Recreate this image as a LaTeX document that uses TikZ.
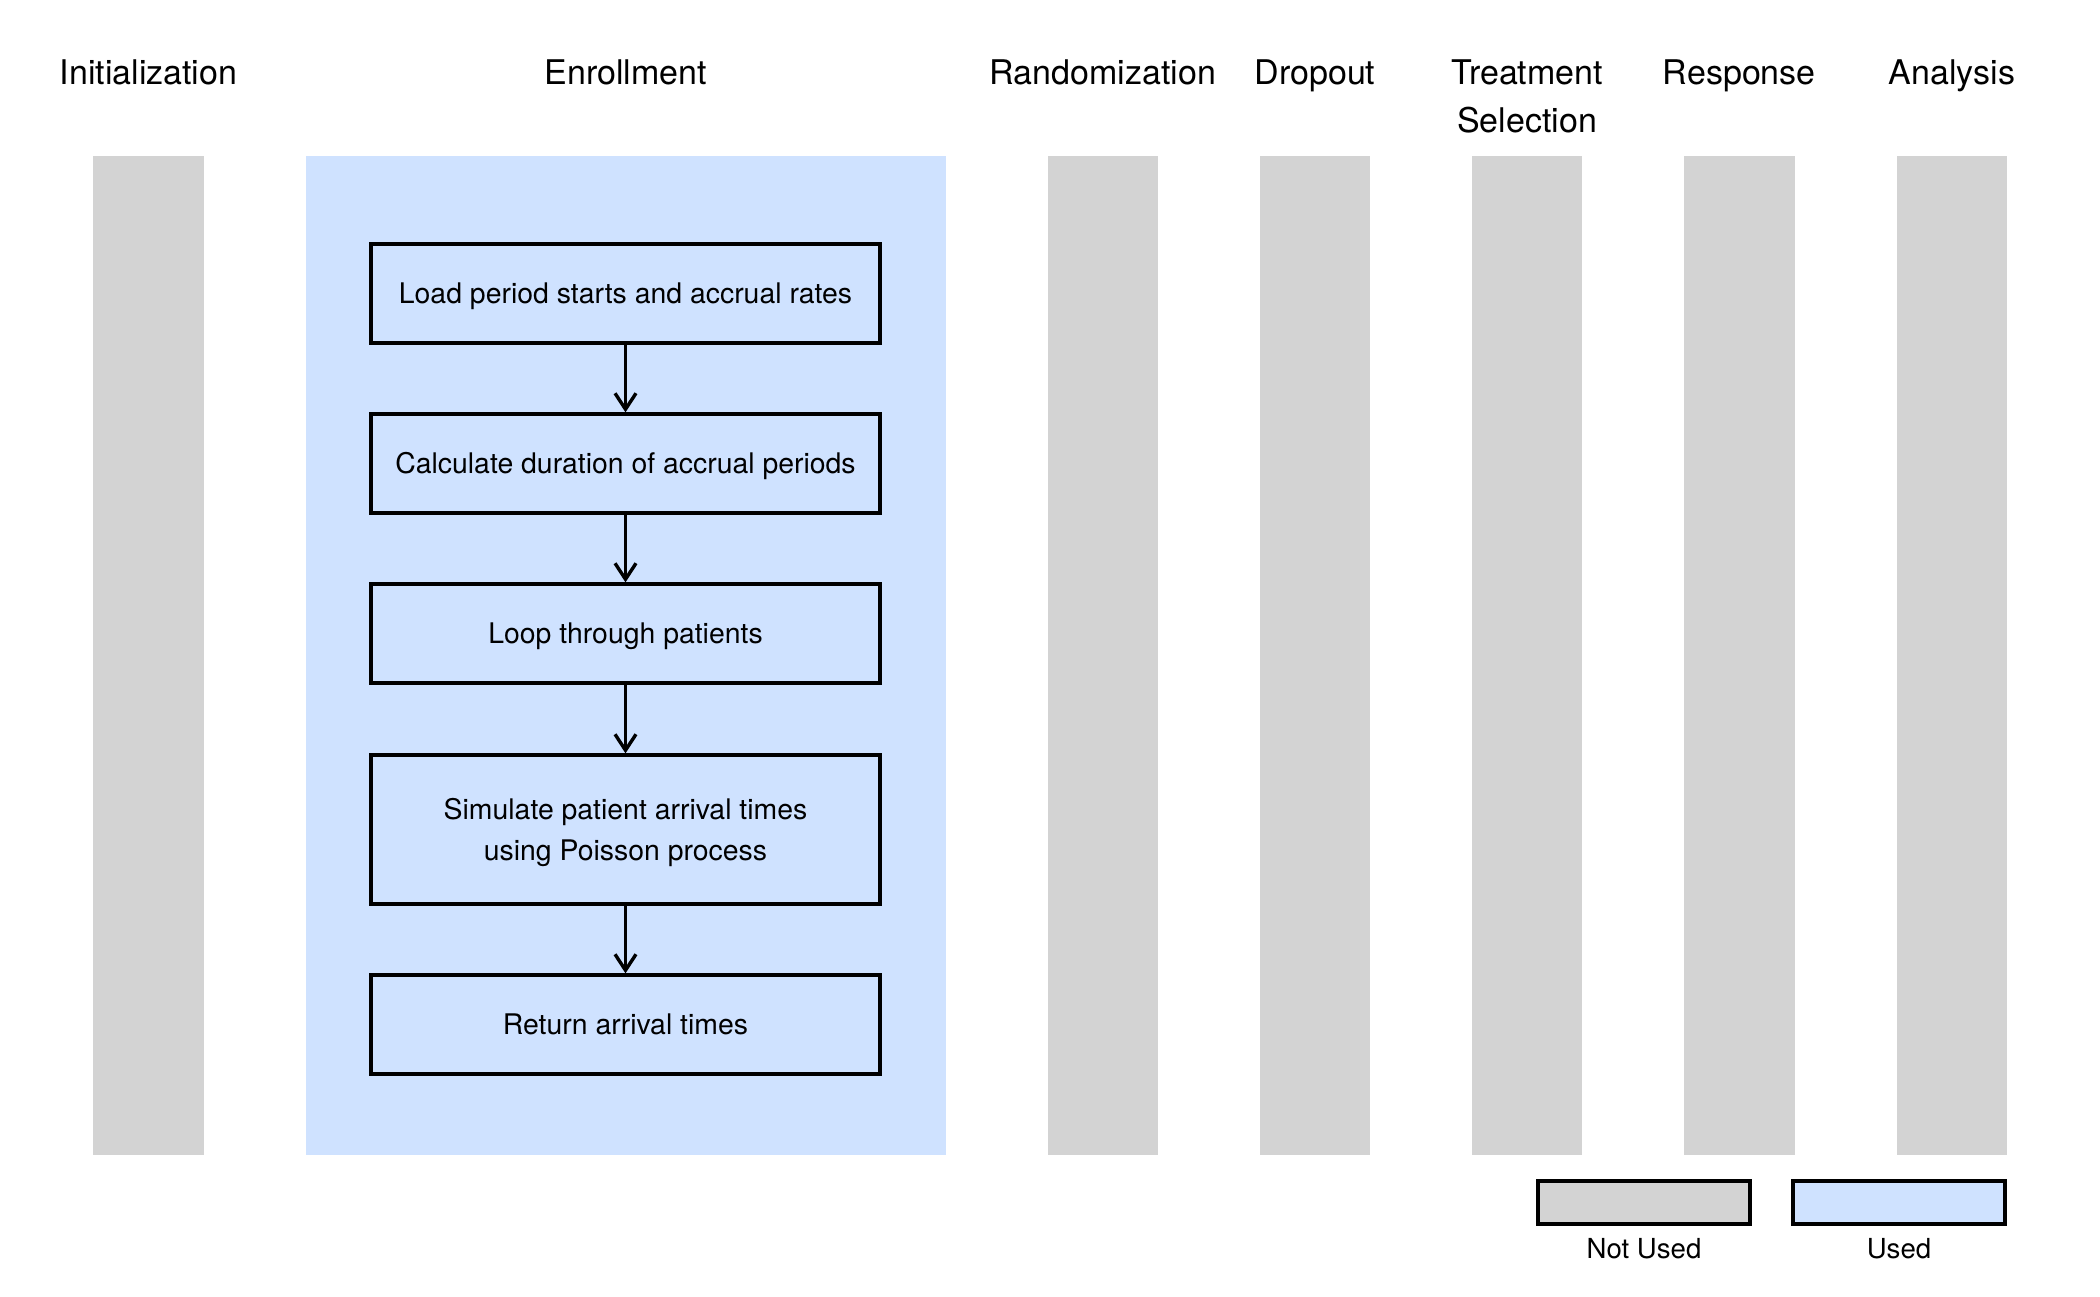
\documentclass[tikz,border=0pt]{standalone}
\usepackage{fontspec}
\setmainfont{TeX Gyre Heros}
\usetikzlibrary{arrows.meta}
\definecolor{unused}{HTML}{D3D3D3}
\definecolor{used}{HTML}{CFE2FF}
\begin{document}
\begin{tikzpicture}[x=1pt,y=-1pt,
  lane/.style={fill=unused, draw=none, inner sep=0pt, minimum width=110.5pt, minimum height=998.7pt},
  uselane/.style={fill=used, draw=none, inner sep=0pt, minimum width=640.3pt, minimum height=998.7pt},
  title/.style={font=\fontsize{34}{48}\selectfont, inner sep=0pt, anchor=base, align=center},
  stepbox/.style={draw=black, line width=3.3pt, fill=used, inner sep=0pt, minimum width=509pt, minimum height=99pt, align=center, font=\fontsize{28.4}{41}\selectfont, text height=19.6pt, text depth=0pt},
  flow/.style={line width=3.6pt, -{Straight Barb[length=16pt,width=21pt,line width=3.4pt]}},
  legbox/.style={draw=black, line width=3.3pt, inner sep=0pt, minimum width=212pt, minimum height=43pt},
  legtext/.style={font=\fontsize{27.6}{33}\selectfont, inner sep=0pt, anchor=base}
]
\useasboundingbox (0,0) rectangle (2100,1297);
% lanes
\node[lane] (l1) at (148.5,655.3) {};
\node[uselane] (l2) at (625.85,655.3) {};
\node[lane] (l3) at (1103,655.3) {};
\node[lane] (l4) at (1315,655.3) {};
\node[lane] (l5) at (1527.2,655.3) {};
\node[lane] (l6) at (1739.3,655.3) {};
\node[lane] (l7) at (1952,655.3) {};
% titles
\node[title] (t1) at (148.5,84.3) {Initialization};
\node[title] (t2) at (625.85,84.3) {Enrollment};
\node[title] (t3) at (1103,84.3) {Randomization};
\node[title] (t4) at (1315,84.3) {Dropout};
\node[title, anchor=center] (t5) at (1527.2,96.8) {Treatment\\Selection};
\node[title] (t6) at (1739.3,84.3) {Response};
\node[title] (t7) at (1952,84.3) {Analysis};
% steps
\node[stepbox] (s1) at (625.5,293.5) {Load period starts and accrual rates};
\node[stepbox] (s2) at (625.5,463.5) {Calculate duration of accrual periods};
\node[stepbox] (s3) at (625.5,633.5) {Loop through patients};
\node[stepbox, minimum height=149pt, text height=62.4pt] (s4) at (625.5,829.5) {Simulate patient arrival times\\using Poisson process};
\node[stepbox] (s5) at (625.5,1024.5) {Return arrival times};
\draw[flow] (s1.south) -- (s2.north);
\draw[flow] (s2.south) -- (s3.north);
\draw[flow] (s3.south) -- (s4.north);
\draw[flow] (s4.south) -- (s5.north);
% legend
\node[legbox, fill=unused] (g1) at (1644,1202.5) {};
\node[legbox, fill=used] (g2) at (1899,1202.5) {};
\node[legtext] (gt1) at (1644,1258) {Not Used};
\node[legtext] (gt2) at (1899,1258) {Used};
\end{tikzpicture}
\end{document}
